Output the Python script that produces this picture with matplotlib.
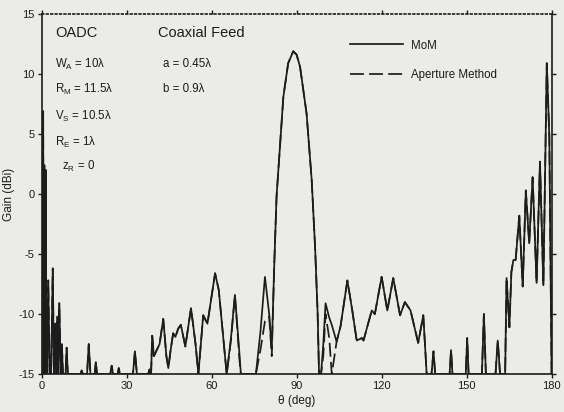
import numpy as np
import matplotlib.pyplot as plt

# theta (deg) and gain (dBi), values below -15 sit on the floor
theta = [0.0, 0.3, 0.5, 0.7, 0.9, 1.15, 1.4, 1.65, 1.9, 2.3, 2.8, 3.3, 3.9, 4.3,
         4.7, 5.1, 5.5, 5.8, 6.2, 6.7, 7.1, 7.5, 8.4, 8.8, 9.2, 13.7, 14.1, 14.5,
         16.0, 16.6, 17.2, 18.7, 19.1, 19.5, 24.2, 24.7, 25.2, 26.8, 27.2, 27.6,
         32.2, 32.9, 33.6, 37.6, 38.0, 38.3, 38.6, 39.0, 39.6, 41.6, 42.9, 44.0,
         44.7, 45.5, 46.4, 47.2, 48.2, 49.1, 50.7, 52.7, 54.3, 55.3, 57.0, 58.5,
         61.2, 62.5, 65.3, 66.8, 68.2, 69.8, 70.3, 75.6, 77.2, 78.8, 80.3, 81.2,
         82.1, 82.9, 84.1, 85.3, 87.0, 88.8, 90.0, 91.2, 93.5, 95.3, 96.5, 97.4,
         97.9, 98.6, 99.4, 100.2, 101.5, 102.4, 104.1, 105.5, 107.9, 109.5,
         111.2, 113.0, 113.6, 116.5, 117.6, 120.0, 122.0, 124.1, 126.5, 128.2,
         130.2, 132.9, 134.7, 135.9, 137.6, 138.3, 138.9, 144.0, 144.5, 145.0,
         149.7, 150.2, 150.7, 155.4, 156.1, 156.8, 160.2, 161.0, 161.8, 163.6,
         164.1, 165.1, 165.8, 166.5, 167.3, 168.6, 169.8, 170.9, 172.1, 173.3,
         174.7, 175.9, 177.1, 178.3, 179.2, 180.0]

mom_gain = [2.4, -15, 6.9, -15, 2.4, -15, 2.0, -15, -15, -7.2, -15, -15, -6.2, -15,
            -10.8, -15, -10.2, -15, -9.1, -15, -12.5, -15, -15, -12.8, -15, -15, -14.7, -15,
            -15, -12.5, -15, -15, -14.0, -15, -15, -14.3, -15, -15, -14.5, -15,
            -15, -13.1, -15, -15, -14.6, -15, -15, -11.8, -13.5, -12.5, -10.4, -13.5,
            -14.5, -13.0, -11.6, -11.9, -11.2, -10.9, -12.7, -9.5, -12.5, -15, -10.1, -10.8,
            -6.6, -8.0, -15, -12.0, -8.4, -13.3, -15, -15, -11.5, -6.9, -10.0, -13.0,
            -5.8, -0.2, 3.9, 8.1, 10.9, 11.9, 11.6, 10.6, 6.7, 1.2, -4.4, -9.9,
            -15, -15, -12.5, -9.1, -10.3, -10.9, -12.3, -11.0, -7.2, -9.5,
            -12.2, -12.0, -12.2, -9.7, -10.0, -6.9, -9.7, -7.0, -10.1, -9.0,
            -9.7, -12.4, -10.1, -15, -15, -13.1, -15, -15, -13.0, -15,
            -15, -12.0, -15, -15, -10.0, -15, -15, -12.2, -15, -15,
            -7.0, -11.1, -6.5, -5.5, -5.5, -1.8, -7.7, 0.3, -4.1, 1.4,
            -7.4, 2.7, -7.6, 10.9, 4.8, -15]

aperture_gain = [2.4, -15, 6.9, -15, 2.4, -15, 2.0, -15, -15, -7.2, -15, -15, -6.2, -15,
                 -10.8, -15, -10.2, -15, -9.1, -15, -12.5, -15, -15, -12.8, -15, -15, -14.7, -15,
                 -15, -12.5, -15, -15, -14.0, -15, -15, -14.3, -15, -15, -14.5, -15,
                 -15, -13.1, -15, -15, -14.6, -15, -15, -11.8, -13.5, -12.5, -10.4, -13.5,
                 -14.5, -13.0, -11.6, -11.9, -11.2, -10.9, -12.7, -9.5, -12.5, -15, -10.1, -10.8,
                 -6.6, -8.0, -15, -12.2, -8.4, -13.8, -15, -15, -13.0, -10.6, -10.2, -13.5,
                 -5.8, -0.2, 3.9, 8.1, 10.9, 11.9, 11.6, 10.6, 6.7, 1.2, -4.4, -9.9,
                 -15, -15, -13.5, -10.0, -12.0, -15, -12.3, -11.0, -7.2, -9.5,
                 -12.2, -12.0, -12.2, -9.7, -10.0, -6.9, -9.7, -7.0, -10.1, -9.0,
                 -9.7, -12.4, -10.1, -15, -15, -13.1, -15, -15, -13.0, -15,
                 -15, -12.0, -15, -15, -10.0, -15, -15, -12.2, -15, -15,
                 -7.0, -11.1, -6.5, -5.5, -5.5, -1.8, -7.7, 0.3, -4.1, 1.4,
                 -7.4, 2.7, -7.6, 10.9, 4.8, -15]

xticks = [0, 30, 60, 90, 120, 150, 180]
yticks = [-15, -10, -5, 0, 5, 10, 15]

plt.rcParams['font.family'] = ['Liberation Sans', 'DejaVu Sans']
plt.rcParams['axes.unicode_minus'] = False
plt.rcParams['mathtext.default'] = 'regular'
paper = '#ebebe7'
ink = '#1c1c1c'

fig = plt.figure(figsize=(5.64, 4.12), dpi=100, facecolor=paper)
ax = fig.add_axes([0.074, 0.092, 0.904, 0.874], facecolor=paper)

ax.plot(theta, mom_gain, color=ink, lw=1.25, label='MoM')
ax.plot(theta, aperture_gain, color=ink, lw=1.25, dashes=(8, 3),
        label='Aperture Method')

ax.set_xlim(0, 180)
ax.set_ylim(-15, 15)
ax.set_xticks(xticks)
ax.set_yticks(yticks)
ax.tick_params(direction='out', length=3, width=1, labelsize=8, pad=2,
               top=True, right=True, colors=ink)
for s in ax.spines.values():
    s.set_linewidth(1.2)
    s.set_color(ink)
ax.spines['top'].set_linestyle(':')

ax.set_xlabel('θ (deg)', fontsize=8.5, labelpad=3, color=ink)
ax.set_ylabel('Gain (dBi)', fontsize=8.5, color=ink)
ax.yaxis.set_label_coords(-0.052, 0.5)

ax.text(4.7, 13.4, 'OADC', fontsize=10.5, va='center', color=ink)
ax.text(41, 13.4, 'Coaxial Feed', fontsize=10.5, va='center', color=ink)
params = [(4.7, 10.8, r'W$_{A}$ = 10λ'), (4.7, 8.7, r'R$_{M}$ = 11.5λ'),
          (4.7, 6.5, r'V$_{S}$ = 10.5λ'), (4.7, 4.3, r'R$_{E}$ = 1λ'),
          (7.2, 2.3, r'z$_{R}$ = 0'), (42.8, 10.8, 'a = 0.45λ'),
          (42.8, 8.75, 'b = 0.9λ')]
for px, py, s in params:
    ax.text(px, py, s, fontsize=8.3, va='center', color=ink)

ax.legend(loc='upper left', bbox_to_anchor=(0.585, 0.958), frameon=False,
          fontsize=8.3, handlelength=4.6, handletextpad=0.7, labelspacing=1.5,
          labelcolor=ink)

plt.savefig('out.png', dpi=100, facecolor=paper)
